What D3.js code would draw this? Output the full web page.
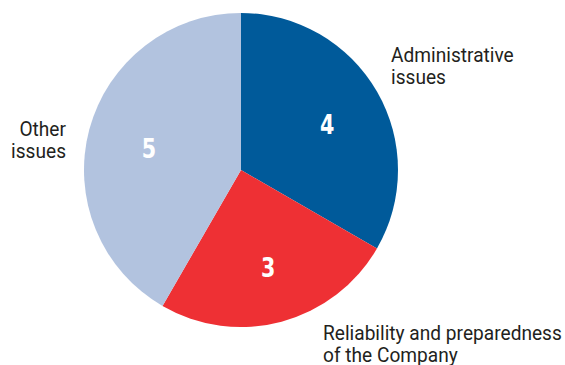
<!DOCTYPE html>
<script src="https://d3js.org/d3.v7.min.js"></script>

<style>
body {margin: 0; background: white;}
.label text {font-family: Roboto, sans-serif; font-size: 21px; fill: #231f20;}
.value {font-family: "DejaVu Sans Condensed", sans-serif; font-weight: bold; font-size: 27px; fill: white; text-anchor: middle;}
</style>

<svg width="565" height="365"></svg>

<script>
var categories = ["Administrative issues", "Reliability and preparedness of the Company", "Other issues"];
var values = [4, 3, 5];
var colors = ["#005a9a", "#ee3034", "#b2c3df"];

var svg = d3.select("svg"),
    cx = 241, cy = 170, r = 157;

var pie = d3.pie().sort(null)
    .value(function(d) { return d; });

var arc = d3.arc().innerRadius(0).outerRadius(r);
var labelArc = d3.arc().innerRadius(r * 0.62).outerRadius(r * 0.62);

var g = svg.append("g").attr("transform", "translate(" + cx + "," + cy + ")");

var slices = g.selectAll(".slice")
    .data(pie(values))
    .enter().append("g").attr("class", "slice");

slices.append("path")
    .attr("d", arc)
    .attr("fill", function(d, i) { return colors[i]; });

slices.append("text")
    .attr("class", "value")
    .attr("transform", function(d) {
        var c = labelArc.centroid(d);
        return "translate(" + (c[0] + 2) + "," + (c[1] + 13) + ") scale(0.85,1)";
    })
    .text(function(d) { return d.data; });

// outside labels (condensed look: squeeze horizontally)
var labelLines = [
    {lines: ["Administrative", "issues"], x: 391, y: 62, anchor: "start"},
    {lines: ["Reliability and preparedness", "of the Company"], x: 323, y: 340, anchor: "start"},
    {lines: ["Other", "issues"], x: 66, y: 136, anchor: "end"}
];

var lab = svg.append("g").attr("class", "label");
var tmp = lab.append("text").text(labelLines[1].lines[0]);
var sx = 239 / tmp.node().getComputedTextLength();
tmp.remove();

labelLines.forEach(function(l) {
    var t = lab.append("g")
        .attr("transform", "translate(" + l.x + "," + l.y + ") scale(" + sx + ",1)")
        .append("text")
        .attr("text-anchor", l.anchor);
    l.lines.forEach(function(s, j) {
        t.append("tspan").attr("x", 0).attr("y", j * 22).text(s);
    });
});
</script>
